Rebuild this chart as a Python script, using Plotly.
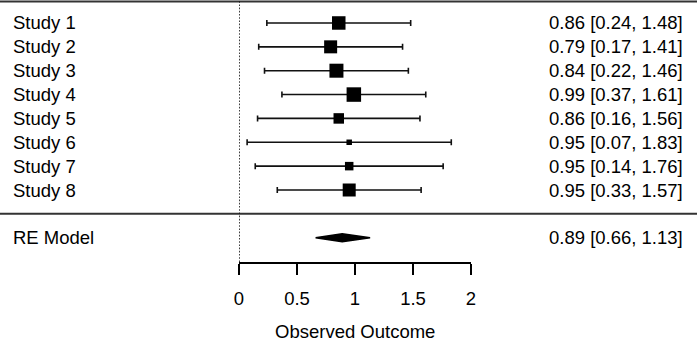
import plotly.graph_objects as go

# ---- data ----
studies = ["Study 1", "Study 2", "Study 3", "Study 4", "Study 5", "Study 6", "Study 7", "Study 8"]
estimates = [0.86, 0.79, 0.84, 0.99, 0.86, 0.95, 0.95, 0.95]
ci_lower = [0.24, 0.17, 0.22, 0.37, 0.16, 0.07, 0.14, 0.33]
ci_upper = [1.48, 1.41, 1.46, 1.61, 1.56, 1.83, 1.76, 1.57]
weights = [13.5, 13.0, 14.0, 14.5, 10.5, 5.5, 8.5, 13.0]  # relative study weights (marker size)
re_label = "RE Model"
re_est = 0.89
re_lower = 0.66
re_upper = 1.13
tick_vals = [0, 0.5, 1, 1.5, 2]
tick_text = ["0", "0.5", "1", "1.5", "2"]
x_title = "Observed Outcome"

W, H = 697, 342
FONT = "Liberation Sans, Arial, sans-serif"
FS = 18.5

k = len(studies)
rows = [k - i for i in range(k)]  # study 1 at top
re_row = -1

fig = go.Figure()

# study estimates with CI whiskers
fig.add_trace(go.Scatter(
    x=estimates, y=rows, mode="markers",
    marker=dict(symbol="square", size=weights, color="#000000", opacity=1, line=dict(width=0)),
    error_x=dict(type="data", symmetric=False,
                 array=[u - e for u, e in zip(ci_upper, estimates)],
                 arrayminus=[e - l for e, l in zip(estimates, ci_lower)],
                 color="#111111", thickness=1.6, width=3),
    cliponaxis=False, showlegend=False, hoverinfo="skip"))

# RE diamond
dh = 0.17
fig.add_trace(go.Scatter(
    x=[re_lower, re_est, re_upper, re_est, re_lower],
    y=[re_row, re_row + dh, re_row, re_row - dh, re_row],
    mode="lines", fill="toself", fillcolor="black",
    line=dict(color="black", width=1.5), showlegend=False, hoverinfo="skip"))

# labels
tf = dict(size=FS, family=FONT, color="black")
annotations = []
for s, r in zip(studies, rows):
    annotations.append(dict(x=11 / W, xref="paper", y=r, yref="y", text=s, showarrow=False,
                            xanchor="left", yanchor="middle", font=tf))
for e, l, u, r in zip(estimates, ci_lower, ci_upper, rows):
    annotations.append(dict(x=685 / W, xref="paper", y=r, yref="y",
                            text=f"{e:.2f} [{l:.2f}, {u:.2f}]", showarrow=False,
                            xanchor="right", yanchor="middle", font=tf))
annotations.append(dict(x=11 / W, xref="paper", y=re_row, yref="y", text=re_label, showarrow=False,
                        xanchor="left", yanchor="middle", font=tf))
annotations.append(dict(x=685 / W, xref="paper", y=re_row, yref="y",
                        text=f"{re_est:.2f} [{re_lower:.2f}, {re_upper:.2f}]", showarrow=False,
                        xanchor="right", yanchor="middle", font=tf))
# x-axis title
annotations.append(dict(x=(tick_vals[0] + tick_vals[-1]) / 2, xref="x", y=0, yref="paper",
                        text=x_title, showarrow=False, xanchor="center", yanchor="bottom",
                        borderpad=0, borderwidth=0, font=tf))

shapes = [
    # top rule
    dict(type="line", xref="paper", yref="paper", x0=0, x1=1, y0=1 - 1.5 / H, y1=1 - 1.5 / H,
         line=dict(color="#333333", width=2)),
    # separator rule between studies and summary
    dict(type="line", xref="paper", yref="y", x0=0, x1=1, y0=0, y1=0,
         line=dict(color="#333333", width=2)),
    # reference line at 0
    dict(type="line", xref="x", yref="paper", x0=0, x1=0, y0=1 - 262 / H, y1=1,
         line=dict(color="#111111", width=1.6, dash="1.6px,1.6px")),
]

px_row = 23.86
y_top = 1 + 190 / px_row
y_bot = 1 - 72 / px_row

fig.update_layout(
    width=W, height=H,
    margin=dict(l=0, r=0, t=0, b=0, pad=0, autoexpand=False),
    paper_bgcolor="white", plot_bgcolor="white",
    font=dict(family=FONT, size=FS, color="black"),
    xaxis=dict(domain=[239 / W, 471 / W], range=[0, 2], showgrid=False, zeroline=False,
               showline=True, linecolor="black", linewidth=1.6, automargin=False,
               ticks="outside", ticklen=11, tickwidth=1.6, tickcolor="black",
               tickvals=tick_vals, ticktext=tick_text, ticklabelstandoff=8,
               tickfont=tf),
    yaxis=dict(domain=[1 - 262 / H, 1], range=[y_bot, y_top], visible=False, automargin=False),
    annotations=annotations, shapes=shapes,
)

fig.write_html("out.html", config={"displayModeBar": False, "staticPlot": True},
               post_script="document.body.style.margin='0';document.body.style.overflow='hidden';")
